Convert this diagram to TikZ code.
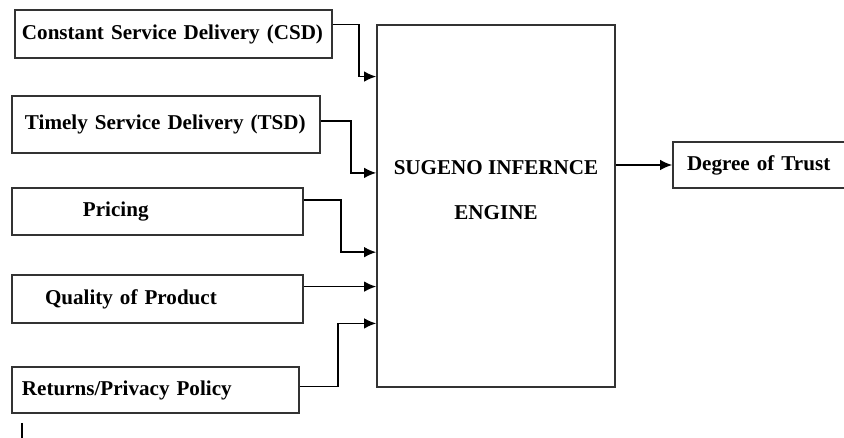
\documentclass[tikz,border=0pt]{standalone}
\usepackage{fontspec}
\setmainfont{Liberation Serif}
\usetikzlibrary{arrows.meta,positioning,calc}

\begin{document}
\begin{tikzpicture}[
  inbox/.style={rectangle,draw=black!80,line width=0.9pt,inner xsep=0pt,inner ysep=0pt,align=left,font=\bfseries\fontsize{12}{14}\selectfont},
  conn/.style={line width=0.9pt,-{Latex[length=2.4mm,width=2.1mm]}}
]
  \useasboundingbox (0,0) rectangle (16.88,-8.76);

  % inputs
  \node[inbox,text width=6.34cm,minimum height=0.96cm] (csd) at (3.47,-0.68) {\hspace*{0.14cm}Constant Service Delivery (CSD)};
  \node[inbox,text width=6.16cm,minimum height=1.14cm] (tsd) at (3.32,-2.49) {\hspace*{0.26cm}Timely Service Delivery (TSD)};
  \node[inbox,text width=5.82cm,minimum height=0.94cm] (price) at (3.15,-4.23) {\hspace*{1.42cm}Pricing};
  \node[inbox,text width=5.82cm,minimum height=0.96cm] (quality) at (3.15,-5.98) {\hspace*{0.66cm}Quality of Product};
  \node[inbox,text width=5.74cm,minimum height=0.92cm] (returns) at (3.11,-7.80) {\hspace*{0.2cm}Returns/Privacy Policy};

  % engine
  \node[rectangle,draw=black!80,line width=0.9pt,minimum width=4.76cm,minimum height=7.24cm] (engine) at (9.92,-4.12) {};
  \node[align=center,font=\bfseries\fontsize{12}{26}\selectfont] (enginetext) at (9.92,-3.80) {SUGENO INFERNCE\\ENGINE};

  % output
  \node[inbox,text width=3.54cm,minimum height=0.92cm] (trust) at (15.23,-3.30) {\hspace*{0.28cm}Degree of Trust};

  % connector ends
  \coordinate (csdout) at ($(csd.north east)!0.31!(csd.south east)$);
  \coordinate (tsdout) at ($(tsd.north east)!0.44!(tsd.south east)$);
  \coordinate (priceout) at ($(price.north east)!0.26!(price.south east)$);
  \coordinate (qualityout) at ($(quality.north east)!0.25!(quality.south east)$);
  \coordinate (returnsout) at ($(returns.north east)!0.43!(returns.south east)$);
  \coordinate (csdin) at ($(engine.north west)!0.144!(engine.south west)$);
  \coordinate (tsdin) at ($(engine.north west)!0.409!(engine.south west)$);
  \coordinate (pricein) at ($(engine.north west)!0.627!(engine.south west)$);
  \coordinate (returnsin) at ($(engine.north west)!0.823!(engine.south west)$);

  \draw[conn] (csdout) -- ++(0.52,0) |- (csdin);
  \draw[conn] (tsdout) -- ++(0.60,0) |- (tsdin);
  \draw[conn] (priceout) -- ++(0.74,0) |- (pricein);
  \draw[conn] (qualityout) -- (qualityout -| engine.west);
  \draw[conn] (returnsout) -- ++(0.76,0) |- (returnsin);
  \draw[conn] (engine.east |- trust.west) -- (trust.west);

  % tick below
  \coordinate (tick) at (0.44,-8.46);
  \draw[line width=0.9pt] (tick) -- ++(0,-0.4);
\end{tikzpicture}
\end{document}
